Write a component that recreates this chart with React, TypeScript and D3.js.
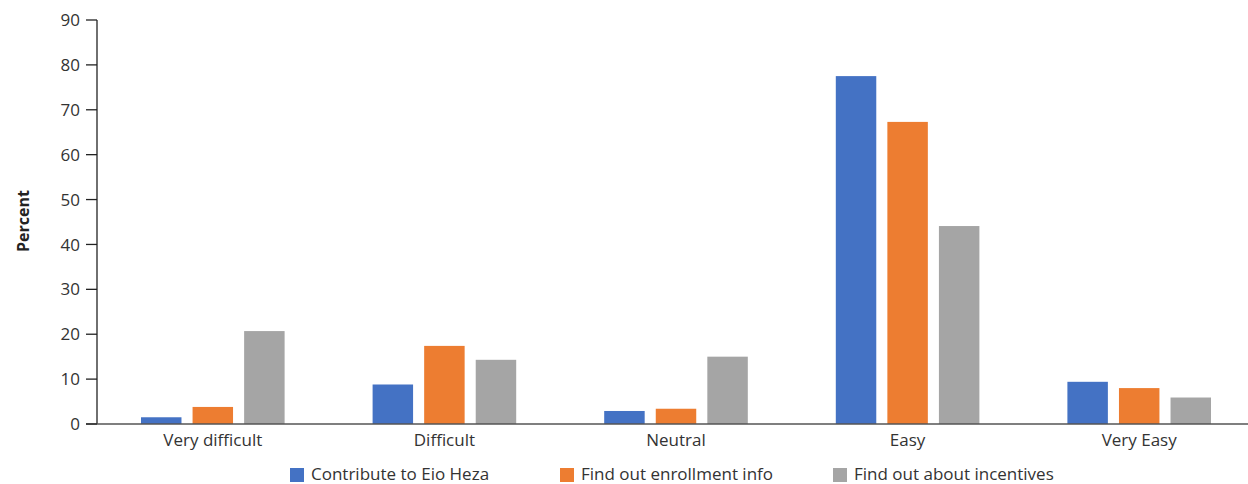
import React from "react";
import * as d3 from "d3";

const categories = ["Very difficult", "Difficult", "Neutral", "Easy", "Very Easy"];
const seriesNames = ["Contribute to Eio Heza", "Find out enrollment info", "Find out about incentives"];
const contribute = [1.5, 8.8, 2.9, 77.5, 9.4];
const enrollment = [3.8, 17.4, 3.4, 67.3, 8.0];
const incentives = [20.7, 14.3, 15.0, 44.1, 5.9];
const yTicks = [0, 10, 20, 30, 40, 50, 60, 70, 80, 90];
const colors = ["#4472C4", "#ED7D31", "#A5A5A5"];

const W = 1248;
const H = 484;
const FONT = "'Open Sans', Lato, sans-serif";

export default function App() {
  const series = [contribute, enrollment, incentives];
  const x0 = d3.scaleBand<string>().domain(categories).range([97, 1255]).paddingInner(0).paddingOuter(0);
  const x1 = d3.scaleBand<number>().domain([0, 1, 2]).range([44, x0.bandwidth() - 44]).paddingInner(0.215);
  const y = d3.scaleLinear().domain([0, 90]).range([424, 20]);
  const legendX = [290, 560, 833];

  return (
    <svg width={W} height={H} style={{ position: "absolute", left: 0, top: 0, background: "#fff" }}>
      {categories.map((c, ci) =>
        series.map((s, si) => (
          <rect
            key={c + si}
            x={(x0(c) as number) + (x1(si) as number)}
            y={y(s[ci])}
            width={x1.bandwidth()}
            height={y(0) - y(s[ci])}
            fill={colors[si]}
          />
        ))
      )}
      <line x1={97} x2={97} y1={20} y2={424} stroke="#222" strokeWidth={1.3} />
      <line x1={86} x2={W} y1={424} y2={424} stroke="#555" strokeWidth={1.3} />
      {yTicks.map((t) => (
        <g key={t}>
          <line x1={86} x2={97} y1={y(t)} y2={y(t)} stroke="#222" strokeWidth={1.3} />
          <text x={80} y={y(t)} dy="0.36em" textAnchor="end" fontFamily={FONT} fontSize={17} fill="#333">
            {t}
          </text>
        </g>
      ))}
      {categories.map((c) => (
        <text
          key={c}
          x={(x0(c) as number) + x0.bandwidth() / 2}
          y={440}
          dy="0.36em"
          textAnchor="middle"
          fontFamily={FONT}
          fontSize={17}
          fill="#333"
        >
          {c}
        </text>
      ))}
      <text
        transform="translate(23,221) rotate(-90)"
        textAnchor="middle"
        dy="0.36em"
        fontFamily={FONT}
        fontSize={16}
        fontWeight="bold"
        fill="#222"
      >
        Percent
      </text>
      {seriesNames.map((n, i) => (
        <g key={n}>
          <rect x={legendX[i]} y={468} width={14} height={14} fill={colors[i]} />
          <text x={legendX[i] + 21} y={474} dy="0.36em" fontFamily={FONT} fontSize={17} fill="#333">
            {n}
          </text>
        </g>
      ))}
    </svg>
  );
}
